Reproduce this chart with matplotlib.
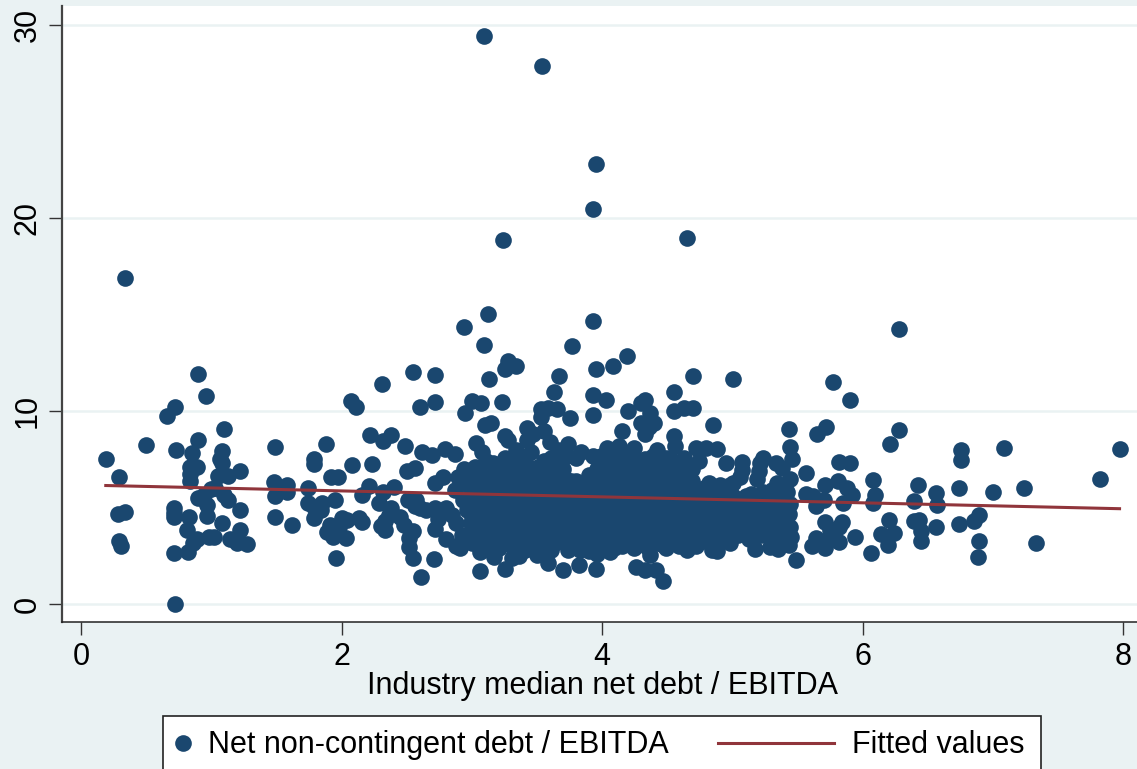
import matplotlib
matplotlib.use("Agg")
import matplotlib.pyplot as plt
from matplotlib.lines import Line2D
from matplotlib.patches import Rectangle

# (industry median, net debt), region by region
outliers = [
    (3.09, 29.4), (3.54, 27.85), (3.95, 22.8), (3.93, 20.45), (3.24, 18.85), (4.65, 18.95),
    (0.34, 16.9), (6.28, 14.25), (3.93, 14.65), (2.94, 14.35), (3.12, 15.05), (3.09, 13.4),
    (3.77, 13.35), (4.19, 12.85), (3.28, 12.6), (3.25, 12.2), (3.34, 12.35), (3.95, 12.2),
    (4.08, 12.35), (2.55, 12.05), (2.72, 11.85), (0.90, 11.9), (3.13, 11.65), (3.67, 11.8),
    (4.70, 11.8), (5.00, 11.65), (5.77, 11.5), (2.31, 11.4), (3.63, 11.0), (4.55, 11.0),
    (0.96, 10.8), (5.90, 10.6), (2.07, 10.55), (2.11, 10.2), (0.72, 10.2), (0.66, 9.75),
    (2.60, 10.2), (2.72, 10.45), (3.00, 10.5), (3.07, 10.4), (3.23, 10.45), (2.95, 9.9),
    (3.53, 10.1), (3.58, 10.15), (3.65, 10.1), (3.93, 10.85), (4.03, 10.6), (3.93, 9.8),
    (3.75, 9.65), (4.20, 10.0), (4.30, 10.4), (4.33, 10.6), (4.37, 9.9), (4.55, 10.0),
    (4.63, 10.15), (4.70, 10.15), (4.85, 9.3), (3.10, 9.3), (3.15, 9.4), (3.42, 9.15),
    (3.53, 9.7), (3.55, 8.95), (4.30, 9.4), (4.36, 9.2), (4.40, 9.4), (4.33, 8.8),
    (4.15, 8.95), (3.47, 8.8), (3.25, 8.7), (3.28, 8.5), (3.42, 8.5), (3.60, 8.4),
]
left_cloud = [
    (0.19, 7.5), (0.29, 6.6), (0.28, 4.7), (0.34, 4.8), (0.29, 3.27), (0.31, 3.0),
    (0.50, 8.25), (0.73, 8.0), (0.71, 5.0), (0.71, 4.75), (0.71, 4.5), (0.71, 2.65),
    (0.72, 0.0), (0.83, 4.5), (0.81, 3.85), (0.82, 2.7), (0.86, 3.2), (0.89, 3.4),
    (0.84, 7.1), (0.84, 6.75), (0.89, 7.1), (0.84, 6.4), (0.90, 5.5), (0.94, 5.65),
    (0.97, 5.15), (0.97, 4.55), (1.00, 5.95), (1.02, 3.5), (0.98, 3.5), (1.08, 4.2),
    (1.14, 3.4), (1.22, 4.9), (1.22, 6.9), (1.13, 6.65), (1.05, 6.65), (1.10, 5.65),
    (1.13, 5.4), (1.22, 3.85), (1.20, 3.2), (1.27, 3.1), (1.08, 7.3), (1.08, 7.95),
    (1.07, 7.5), (1.10, 9.05), (0.90, 8.5), (0.85, 7.85), (1.03, 6.0),
    (1.49, 8.15), (1.48, 6.35), (1.49, 5.6), (1.49, 4.5), (1.58, 6.2), (1.58, 5.8),
    (1.62, 4.1), (1.74, 6.0), (1.79, 7.5), (1.79, 7.25), (1.74, 5.25), (1.79, 5.05),
    (1.79, 4.45), (1.85, 5.25), (1.84, 4.9), (1.88, 8.3), (1.92, 6.6), (1.97, 6.6),
    (1.95, 5.4), (1.91, 4.1), (1.89, 3.75), (1.93, 3.5), (1.96, 2.4), (2.00, 4.45),
    (2.03, 3.45), (2.04, 4.35), (1.98, 4.0), (2.08, 7.2), (2.13, 4.45), (2.16, 4.25),
    (2.16, 5.65), (2.22, 8.75), (2.23, 7.25), (2.21, 6.1), (2.32, 8.45), (2.38, 8.75),
    (2.32, 5.8), (2.40, 6.05), (2.29, 5.25), (2.33, 3.85), (2.36, 4.6), (2.33, 4.3),
    (2.38, 5.0), (2.30, 4.05), (2.49, 8.2), (2.50, 6.9), (2.56, 7.05), (2.51, 5.4),
    (2.57, 5.4), (2.56, 5.1), (2.52, 3.45), (2.52, 2.95), (2.55, 2.4), (2.61, 1.4),
    (2.62, 7.9), (2.69, 7.75), (2.79, 8.05), (2.72, 6.3), (2.71, 2.35), (2.72, 3.9),
    (2.87, 7.8), (2.89, 6.6), (2.87, 5.9), (2.91, 2.9), (2.80, 3.4), (2.88, 3.0),
    (2.45, 4.5), (2.48, 4.1), (2.55, 3.8), (2.60, 5.0), (2.65, 4.9), (2.72, 5.0),
    (2.80, 5.0), (2.85, 4.6), (2.88, 4.2), (2.92, 3.6), (2.78, 6.6), (2.94, 7.0),
    (2.97, 6.2), (2.93, 5.4), (2.96, 4.9), (2.99, 4.2), (2.98, 3.4), (2.74, 4.4),
]
dense_cloud = [
    (3.03, 8.35), (3.08, 7.9), (3.02, 7.1), (3.08, 6.7), (3.04, 6.0), (3.07, 5.5),
    (3.03, 4.9), (3.08, 4.4), (3.03, 3.7), (3.07, 3.1), (3.06, 2.7), (3.06, 1.72),
    (3.16, 7.3), (3.14, 6.6), (3.18, 6.0), (3.13, 5.3), (3.18, 4.7), (3.13, 4.1),
    (3.17, 3.5), (3.14, 2.9), (3.17, 2.45), (3.25, 7.6), (3.27, 7.0), (3.24, 6.4),
    (3.28, 5.7), (3.23, 5.1), (3.27, 4.4), (3.23, 3.8), (3.28, 3.2), (3.25, 1.82),
    (3.31, 2.4), (3.34, 8.0), (3.36, 7.2), (3.33, 6.6), (3.38, 6.0), (3.34, 5.3),
    (3.37, 4.6), (3.33, 3.9), (3.38, 3.3), (3.36, 2.5), (3.45, 7.9), (3.46, 7.0),
    (3.43, 6.3), (3.47, 5.6), (3.43, 5.0), (3.46, 4.3), (3.44, 3.6), (3.47, 3.0),
    (3.50, 2.55), (3.55, 7.4), (3.56, 6.8), (3.53, 6.1), (3.57, 5.4), (3.54, 4.8),
    (3.57, 4.1), (3.53, 3.4), (3.58, 2.9), (3.58, 2.15), (3.66, 8.0), (3.64, 7.2),
    (3.66, 6.5), (3.63, 5.9), (3.67, 5.2), (3.63, 4.5), (3.67, 3.8), (3.64, 3.2),
    (3.70, 1.8), (3.74, 8.3), (3.72, 7.7), (3.76, 6.4), (3.73, 5.6), (3.76, 5.0),
    (3.73, 4.3), (3.76, 3.6), (3.74, 2.8), (3.82, 2.05), (3.84, 7.9), (3.85, 6.2),
    (3.82, 5.5), (3.86, 4.8), (3.83, 4.2), (3.86, 3.4), (3.83, 2.8), (3.95, 1.85),
    (3.93, 7.7), (3.96, 7.0), (3.92, 6.3), (3.95, 5.6), (3.92, 5.0), (3.96, 4.3),
    (3.92, 3.6), (3.95, 3.0), (3.96, 2.6), (4.04, 8.1), (4.03, 7.4), (4.06, 6.7),
    (4.02, 6.0), (4.05, 5.3), (4.02, 4.7), (4.06, 4.0), (4.03, 3.3), (4.06, 2.7),
    (4.13, 8.2), (4.14, 7.2), (4.12, 6.5), (4.15, 5.8), (4.12, 5.1), (4.16, 4.4),
    (4.12, 3.7), (4.15, 3.0), (4.24, 8.1), (4.23, 7.5), (4.25, 6.8), (4.22, 6.1),
    (4.26, 5.4), (4.22, 4.7), (4.26, 4.0), (4.23, 3.4), (4.24, 2.9), (4.26, 1.95),
    (4.33, 1.8), (4.41, 1.8), (4.47, 1.2), (4.33, 7.5), (4.35, 6.9), (4.32, 6.2),
    (4.36, 5.5), (4.33, 4.8), (4.36, 4.1), (4.33, 3.5), (4.35, 2.9), (4.37, 2.55),
    (4.42, 8.0), (4.45, 7.2), (4.43, 6.5), (4.46, 5.8), (4.42, 5.1), (4.46, 4.4),
    (4.43, 3.7), (4.45, 3.1), (4.55, 8.7), (4.56, 8.2), (4.54, 7.4), (4.55, 6.7),
    (4.53, 6.0), (4.56, 5.3), (4.53, 4.6), (4.56, 3.9), (4.53, 3.2), (4.63, 7.6),
    (4.65, 6.9), (4.62, 6.2), (4.66, 5.5), (4.63, 4.8), (4.66, 4.1), (4.63, 3.4),
    (4.65, 2.8), (4.72, 8.1), (4.74, 7.4), (4.71, 5.8), (4.74, 5.2), (4.71, 4.5),
    (4.74, 3.8), (4.72, 3.0), (4.80, 8.1), (4.82, 6.3), (4.84, 5.6), (4.80, 5.0),
    (4.84, 4.3), (4.80, 3.6), (4.84, 2.8), (4.88, 8.05), (4.90, 6.2), (4.92, 5.4),
    (4.89, 4.8), (4.92, 4.1), (4.89, 3.4), (4.88, 2.75), (4.95, 7.3), (4.98, 6.2),
    (5.00, 5.6), (4.97, 5.0), (5.00, 4.4), (4.98, 3.15),
]
dense_fill = [
    (3.00, 6.5), (3.00, 5.7), (3.00, 5.1), (3.00, 4.5), (3.00, 3.9), (3.00, 3.2),
    (3.11, 7.4), (3.11, 6.3), (3.11, 5.7), (3.11, 5.0), (3.11, 4.4), (3.11, 3.8), (3.11, 3.3),
    (3.21, 7.0), (3.21, 6.7), (3.21, 6.1), (3.21, 5.4), (3.21, 4.8), (3.21, 4.1), (3.21, 3.5), (3.21, 2.9),
    (3.31, 7.6), (3.31, 6.9), (3.31, 6.3), (3.31, 5.6), (3.31, 5.0), (3.31, 4.3), (3.31, 3.6), (3.31, 3.0),
    (3.41, 7.5), (3.41, 6.7), (3.41, 6.0), (3.41, 5.3), (3.41, 4.7), (3.41, 4.0), (3.41, 3.3), (3.41, 2.8),
    (3.51, 7.1), (3.51, 6.5), (3.51, 5.8), (3.51, 5.1), (3.51, 4.5), (3.51, 3.8), (3.51, 3.2),
    (3.61, 7.6), (3.61, 6.9), (3.61, 6.2), (3.61, 5.6), (3.61, 4.9), (3.61, 4.2), (3.61, 3.5), (3.61, 2.8),
    (3.70, 7.0), (3.70, 6.7), (3.70, 6.0), (3.70, 5.3), (3.70, 4.6), (3.70, 4.0), (3.70, 3.3),
    (3.80, 7.6), (3.80, 6.4), (3.80, 5.8), (3.80, 5.1), (3.80, 4.5), (3.80, 3.8), (3.80, 3.1),
    (3.90, 6.7), (3.90, 6.0), (3.90, 5.3), (3.90, 4.7), (3.90, 4.0), (3.90, 3.3), (3.90, 2.75),
    (3.99, 7.7), (3.99, 7.1), (3.99, 6.4), (3.99, 5.7), (3.99, 5.0), (3.99, 4.4), (3.99, 3.7), (3.99, 3.1),
    (4.09, 7.8), (4.09, 7.0), (4.09, 6.3), (4.09, 5.6), (4.09, 4.9), (4.09, 4.3), (4.09, 3.6), (4.09, 2.9),
    (4.19, 7.7), (4.19, 6.9), (4.19, 6.2), (4.19, 5.5), (4.19, 4.8), (4.19, 4.1), (4.19, 3.4),
    (4.29, 7.2), (4.29, 6.5), (4.29, 5.8), (4.29, 5.1), (4.29, 4.4), (4.29, 3.8), (4.29, 3.1),
    (4.39, 7.7), (4.39, 6.9), (4.39, 6.2), (4.39, 5.5), (4.39, 4.8), (4.39, 4.1), (4.39, 3.3),
    (4.49, 7.6), (4.49, 6.8), (4.49, 6.1), (4.49, 5.5), (4.49, 4.8), (4.49, 4.1), (4.49, 3.4), (4.49, 2.9),
    (4.59, 7.2), (4.59, 6.5), (4.59, 5.8), (4.59, 5.0), (4.59, 4.3), (4.59, 3.6), (4.59, 3.0),
    (4.69, 7.0), (4.69, 6.4), (4.69, 5.6), (4.69, 5.0), (4.69, 4.2), (4.69, 3.5),
    (4.78, 6.0), (4.78, 5.4), (4.78, 4.7), (4.78, 4.0), (4.78, 3.3),
    (4.87, 5.9), (4.87, 5.2), (4.87, 4.5), (4.87, 3.8), (4.87, 3.1),
    (4.96, 5.7), (4.96, 5.1), (4.96, 4.6), (4.96, 3.8),
    (5.04, 5.4), (5.04, 4.8), (5.04, 4.2), (5.04, 3.6),
    (5.13, 5.3), (5.13, 4.6), (5.13, 3.9), (5.13, 3.4),
    (5.22, 5.5), (5.22, 4.9), (5.22, 4.2), (5.22, 3.6),
    (5.30, 5.9), (5.30, 5.2), (5.30, 4.7), (5.30, 4.0), (5.30, 3.5),
    (5.38, 5.6), (5.38, 4.4),
]
right_cloud = [
    (5.07, 7.35), (5.07, 6.95), (5.06, 6.6), (5.00, 6.3), (5.10, 5.6), (5.08, 5.0),
    (5.12, 4.3), (5.17, 2.85), (5.14, 5.7), (5.17, 5.0), (5.23, 7.6), (5.21, 7.3),
    (5.20, 6.9), (5.19, 6.5), (5.23, 5.8), (5.26, 5.2), (5.22, 4.5), (5.27, 3.9),
    (5.29, 2.95), (5.33, 7.3), (5.38, 7.05), (5.34, 6.3), (5.30, 5.6), (5.37, 5.0),
    (5.32, 4.4), (5.38, 3.8), (5.35, 2.85), (5.34, 3.3), (5.44, 8.15), (5.46, 7.5),
    (5.43, 9.1), (5.44, 6.5), (5.42, 5.8), (5.44, 5.2), (5.43, 4.7), (5.44, 4.0),
    (5.43, 3.05), (5.45, 3.5), (5.49, 2.3), (5.56, 6.8), (5.56, 5.7), (5.62, 5.6),
    (5.64, 5.1), (5.65, 8.8), (5.72, 9.2), (5.61, 3.0), (5.64, 3.45), (5.71, 2.9),
    (5.71, 3.3), (5.71, 4.25), (5.75, 3.85), (5.82, 3.25), (5.84, 4.25), (5.94, 3.5),
    (5.82, 7.35), (5.90, 7.3), (5.71, 6.2), (5.81, 6.4), (5.88, 6.0), (5.92, 5.65),
    (5.85, 5.25), (5.70, 5.4), (5.82, 4.0),
    (6.08, 6.45), (6.09, 5.65), (6.08, 5.25), (6.21, 8.3), (6.28, 9.0), (6.42, 6.2),
    (6.39, 5.35), (6.56, 5.75), (6.57, 5.15), (6.56, 4.0), (6.43, 4.35), (6.39, 4.3),
    (6.45, 3.8), (6.45, 3.3), (6.24, 3.7), (6.20, 4.35), (6.14, 3.65), (6.19, 3.05),
    (6.06, 2.65), (6.75, 8.0), (6.75, 7.45), (6.74, 6.0), (6.74, 4.15), (6.85, 4.3),
    (6.89, 4.6), (6.89, 3.3), (6.88, 2.45), (7.00, 5.8), (7.08, 8.1), (7.24, 6.0),
    (7.33, 3.2), (7.82, 6.5), (7.97, 8.05),
]
fit_x = [0.19, 7.97]
fit_y = [6.15, 4.95]
x_ticks = [0, 2, 4, 6, 8]
y_ticks = [0, 10, 20, 30]

BG = "#EAF2F3"
NAVY = "#1A476F"
MAROON = "#90353B"
DOT = 12.0

plt.rcParams["font.family"] = ["Liberation Sans", "DejaVu Sans"]

W, H = 1137, 769
fig = plt.figure(figsize=(W / 100, H / 100), dpi=100, facecolor=BG)
ax = fig.add_axes([62 / W, (H - 622.3) / H, (W - 62) / W, (622.3 - 6) / H])
ax.set_facecolor("white")

points = outliers + left_cloud + dense_cloud + dense_fill + right_cloud
xs = [p[0] for p in points]
ys = [p[1] for p in points]

ax.grid(axis="y", color=BG, lw=1.8, zorder=0)
ax.set_axisbelow(True)
ax.plot(xs, ys, "o", color=NAVY, ms=DOT, mew=0, zorder=3)
ax.plot(fit_x, fit_y, color=MAROON, lw=2.2, zorder=4)

ax.set_xlim(-0.146, 8.104)
ax.set_ylim(-0.93, 30.97)
ax.set_xticks(x_ticks)
ax.set_yticks(y_ticks)
ax.spines["top"].set_visible(False)
ax.spines["right"].set_visible(False)
ax.spines["left"].set_linewidth(1.6)
ax.spines["left"].set_color("#444444")
ax.spines["bottom"].set_linewidth(1.1)
ax.spines["bottom"].set_color("#222222")
ax.tick_params(axis="both", length=9.5, width=1, color="#333333", labelsize=22, pad=4.5)
ax.tick_params(axis="x", pad=5)
plt.setp(ax.get_yticklabels(), rotation=90, va="center")
ax.set_xlabel("Industry median net debt / EBITDA", fontsize=22, labelpad=-1)
ax.xaxis.label.set_x(0.503)

# legend box runs off the bottom edge like the original, so it is laid out by hand
def fx(px):
    return px / W

def fy(px):
    return 1 - px / H

fig.add_artist(Rectangle((fx(163), fy(775)), fx(1041 - 163), fy(715.7) - fy(775),
                         transform=fig.transFigure, fc="white", ec="#222222", lw=1.2))
fig.add_artist(Line2D([fx(183)], [fy(743)], transform=fig.transFigure, marker="o",
                      color=NAVY, ms=DOT, mew=0, ls=""))
fig.add_artist(Line2D([fx(718), fx(834)], [fy(743), fy(743)], transform=fig.transFigure,
                      color=MAROON, lw=2.2))
fig.text(fx(208), fy(753), "Net non-contingent debt / EBITDA", fontsize=22, va="baseline")
fig.text(fx(852), fy(753), "Fitted values", fontsize=22, va="baseline")

fig.savefig("out.png", dpi=100, facecolor=BG)
